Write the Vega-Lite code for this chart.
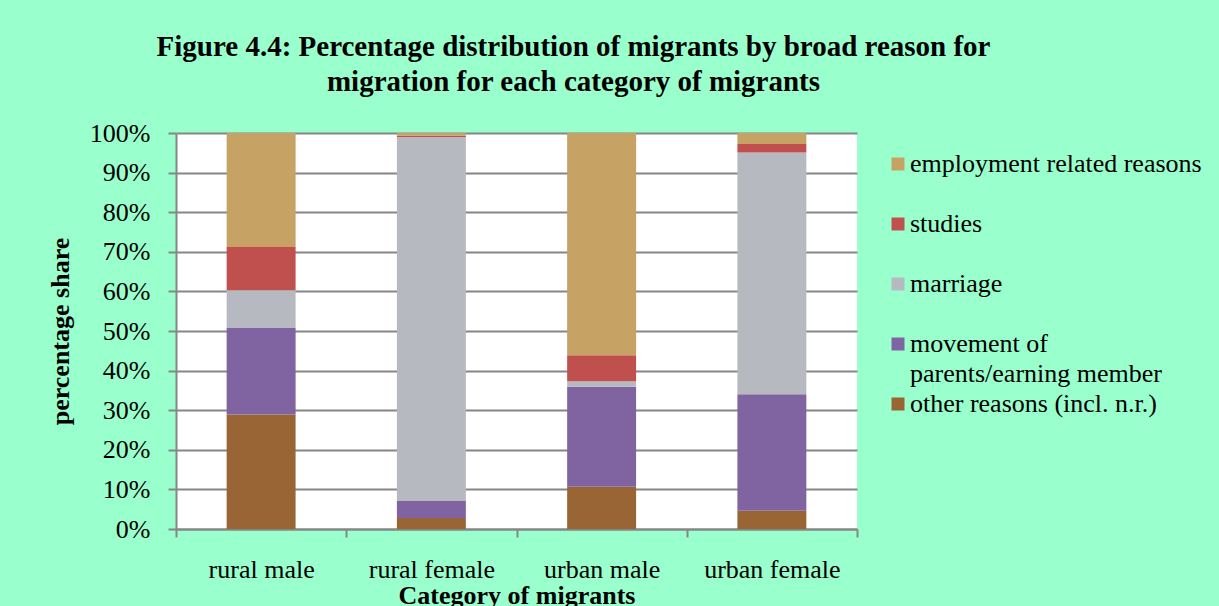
{
  "$schema": "https://vega.github.io/schema/vega-lite/v6.json",
  "width": 681,
  "height": 396,
  "autosize": "none",
  "padding": {"left": 176, "top": 133, "right": 362, "bottom": 77},
  "background": "#99FFCC",
  "title": {
    "text": ["Figure 4.4: Percentage distribution of migrants by broad reason for", "migration for each category of migrants"],
    "font": "Liberation Serif",
    "fontSize": 29,
    "fontWeight": "bold",
    "color": "#000000",
    "anchor": "middle",
    "dx": 57,
    "offset": 23,
    "lineHeight": 35
  },
  "data": {
    "values": [
      {"category": "rural male", "reason": "other reasons (incl. n.r.)", "order": 1, "value": 28.9},
      {"category": "rural male", "reason": "movement of parents/earning member", "order": 2, "value": 22.0},
      {"category": "rural male", "reason": "marriage", "order": 3, "value": 9.4},
      {"category": "rural male", "reason": "studies", "order": 4, "value": 10.9},
      {"category": "rural male", "reason": "employment related reasons", "order": 5, "value": 28.8},
      {"category": "rural female", "reason": "other reasons (incl. n.r.)", "order": 1, "value": 2.8},
      {"category": "rural female", "reason": "movement of parents/earning member", "order": 2, "value": 4.4},
      {"category": "rural female", "reason": "marriage", "order": 3, "value": 91.8},
      {"category": "rural female", "reason": "studies", "order": 4, "value": 0.3},
      {"category": "rural female", "reason": "employment related reasons", "order": 5, "value": 0.7},
      {"category": "urban male", "reason": "other reasons (incl. n.r.)", "order": 1, "value": 10.7},
      {"category": "urban male", "reason": "movement of parents/earning member", "order": 2, "value": 25.2},
      {"category": "urban male", "reason": "marriage", "order": 3, "value": 1.4},
      {"category": "urban male", "reason": "studies", "order": 4, "value": 6.6},
      {"category": "urban male", "reason": "employment related reasons", "order": 5, "value": 56.1},
      {"category": "urban female", "reason": "other reasons (incl. n.r.)", "order": 1, "value": 4.6},
      {"category": "urban female", "reason": "movement of parents/earning member", "order": 2, "value": 29.4},
      {"category": "urban female", "reason": "marriage", "order": 3, "value": 61.1},
      {"category": "urban female", "reason": "studies", "order": 4, "value": 2.1},
      {"category": "urban female", "reason": "employment related reasons", "order": 5, "value": 2.8}
    ]
  },
  "mark": {"type": "bar", "width": {"band": 0.405}},
  "encoding": {
    "x": {
      "field": "category",
      "type": "nominal",
      "sort": ["rural male", "rural female", "urban male", "urban female"],
      "scale": {"paddingInner": 0, "paddingOuter": 0},
      "axis": {
        "title": "Category of migrants",
        "titleFont": "Liberation Serif",
        "titleFontSize": 26,
        "titleFontWeight": "bold",
        "titleColor": "#000000",
        "titlePadding": 0,
        "labelFont": "Liberation Serif",
        "labelFontSize": 26,
        "labelColor": "#000000",
        "labelAngle": 0,
        "labelPadding": 19,
        "tickBand": "extent",
        "tickSize": 8,
        "tickColor": "#868686",
        "tickWidth": 2,
        "domainColor": "#868686",
        "domainWidth": 2,
        "grid": false
      }
    },
    "y": {
      "field": "value",
      "type": "quantitative",
      "stack": "normalize",
      "scale": {"domain": [0, 1]},
      "axis": {
        "title": "percentage share",
        "titleFont": "Liberation Serif",
        "titleFontSize": 26,
        "titleFontWeight": "bold",
        "titleColor": "#000000",
        "titlePadding": 16,
        "format": ".0%",
        "values": [0, 0.1, 0.2, 0.3, 0.4, 0.5, 0.6, 0.7, 0.8, 0.9, 1],
        "labelFont": "Liberation Serif",
        "labelFontSize": 26,
        "labelColor": "#000000",
        "labelPadding": 18,
        "tickSize": 8,
        "tickColor": "#868686",
        "tickWidth": 2,
        "domainColor": "#868686",
        "domainWidth": 2,
        "grid": true,
        "gridColor": "#868686",
        "gridWidth": 2
      }
    },
    "color": {
      "field": "reason",
      "type": "nominal",
      "sort": ["employment related reasons", "studies", "marriage", "movement of parents/earning member", "other reasons (incl. n.r.)"],
      "scale": {
        "domain": ["employment related reasons", "studies", "marriage", "movement of parents/earning member", "other reasons (incl. n.r.)"],
        "range": ["#C6A265", "#C0504D", "#B6B9BF", "#8064A2", "#9A6535"]
      },
      "legend": {
        "title": null,
        "orient": "none",
        "legendX": 709,
        "legendY": 18,
        "symbolType": "square",
        "symbolSize": 169,
        "symbolStrokeWidth": 0,
        "labelFont": "Liberation Serif",
        "labelFontSize": 26,
        "labelColor": "#000000",
        "labelLimit": 400,
        "labelOffset": -1,
        "gridAlign": "all",
        "rowPadding": 4,
        "labelExpr": "datum.label == 'movement of parents/earning member' ? [' movement of', 'parents/earning member'] : datum.label == 'marriage' ? ' marriage' : datum.label",
        "encode": {
          "labels": {
            "update": {
              "font": {"value": "Liberation Serif"},
              "fontSize": {"value": 26},
              "lineHeight": {"value": 30}
            }
          }
        }
      }
    },
    "order": {"field": "order", "type": "quantitative"}
  },
  "config": {
    "view": {"stroke": null, "fill": "#FFFFFF"},
    "legend": {"labelFont": "Liberation Serif", "labelFontSize": 26}
  }
}
